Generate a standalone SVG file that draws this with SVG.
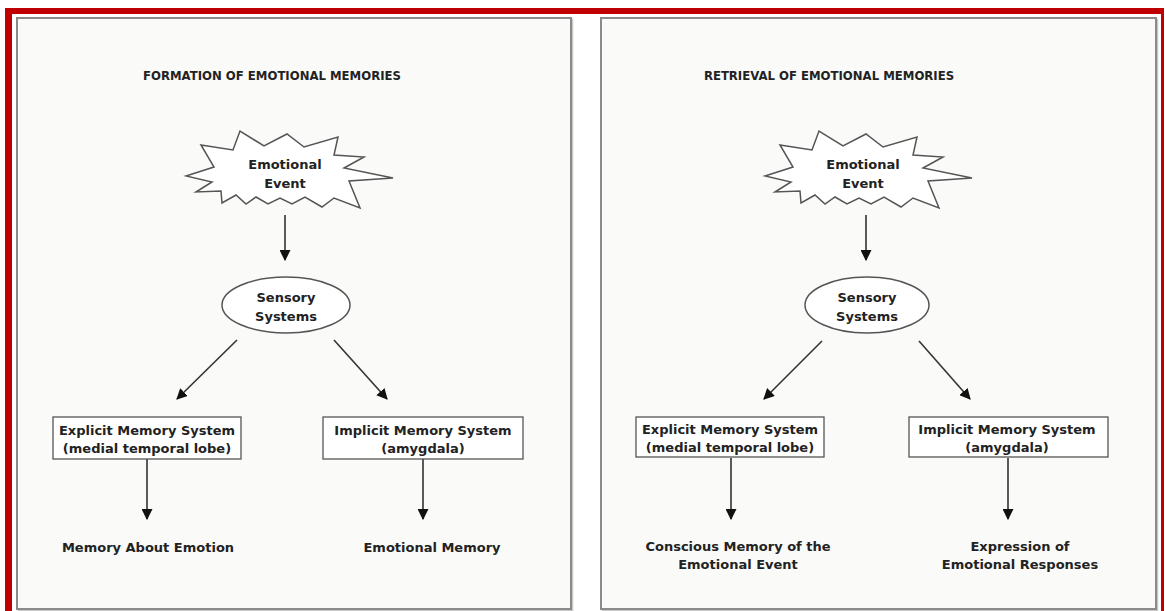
<svg xmlns="http://www.w3.org/2000/svg" width="1165" height="611" viewBox="0 0 1165 611">
<style>
text{font-family:"DejaVu Sans","Liberation Sans",sans-serif;font-weight:bold;fill:#222;text-anchor:middle}
.t{font-size:11.7px}
.n{font-size:13px}
.panel{fill:#fafbf9;stroke:#8a8a8a;stroke-width:2}
.shadow{fill:none;stroke:#c8c8c8;stroke-width:1.5}
.shape{fill:#fff;stroke:#555;stroke-width:1.5}
.box{fill:#fff;stroke:#555;stroke-width:1.3}
.link{stroke:#333;stroke-width:1.6;fill:none;marker-end:url(#ah)}
</style>
<defs>
<marker id="ah" viewBox="0 0 10 10" refX="9" refY="5" markerWidth="11" markerHeight="11" orient="auto" markerUnits="userSpaceOnUse">
<path d="M0,0 L10,5 L0,10 Z" fill="#111"/>
</marker>
<polygon id="star" points="186,176 214,167 201,145 233,150 240,131 264,146 287,134 304,147 338,137 334,155 364,157 344,168 393,178 349,181 360,208 334,198 322,207 305,197 292,204 280,198 268,204 256,197 246,204 236,195 222,203 221,191 196,192 212,182"/>
</defs>
<rect width="1165" height="611" fill="#fff"/>
<rect x="5" y="8" width="1159" height="6" fill="#c00000"/>
<rect x="5" y="8" width="7" height="603" fill="#c00000"/>
<rect x="1161" y="8" width="3" height="603" fill="#c00000"/>
<g id="panel-formation">
<rect class="shadow" x="18.5" y="19.5" width="554" height="591"/>
<rect class="panel" x="17" y="18" width="554" height="591"/>
<text class="t" x="272" y="80">FORMATION OF EMOTIONAL MEMORIES</text>
</g>
<g id="panel-retrieval">
<rect class="shadow" x="602.5" y="19.5" width="555" height="591"/>
<rect class="panel" x="601" y="18" width="555" height="591"/>
<text class="t" x="829" y="80">RETRIEVAL OF EMOTIONAL MEMORIES</text>
</g>
<g id="connectors">
<line class="link" x1="285" y1="215" x2="285" y2="260"/>
<line class="link" x1="237" y1="340" x2="177" y2="399"/>
<line class="link" x1="334" y1="340" x2="387" y2="399"/>
<line class="link" x1="147" y1="459" x2="147" y2="519"/>
<line class="link" x1="423" y1="459" x2="423" y2="519"/>
<line class="link" x1="866" y1="215" x2="866" y2="260"/>
<line class="link" x1="822" y1="341" x2="764" y2="399"/>
<line class="link" x1="919" y1="341" x2="970" y2="399"/>
<line class="link" x1="731" y1="458" x2="731" y2="519"/>
<line class="link" x1="1008" y1="458" x2="1008" y2="519"/>
</g>
<g id="f-event">
<use href="#star" class="shape"/>
<text class="n" x="285" y="169">Emotional</text>
<text class="n" x="285" y="188">Event</text>
</g>
<g id="f-sensory">
<ellipse class="shape" cx="286" cy="305" rx="64" ry="28"/>
<text class="n" x="286" y="302">Sensory</text>
<text class="n" x="286" y="321">Systems</text>
</g>
<g id="f-explicit">
<rect class="box" x="53" y="417" width="188" height="42"/>
<text class="n" x="147" y="435">Explicit Memory System</text>
<text class="n" x="147" y="453">(medial temporal lobe)</text>
</g>
<g id="f-implicit">
<rect class="box" x="323" y="417" width="200" height="42"/>
<text class="n" x="423" y="435">Implicit Memory System</text>
<text class="n" x="423" y="453">(amygdala)</text>
</g>
<g id="f-about">
<text class="n" x="148" y="552">Memory About Emotion</text>
</g>
<g id="f-emomem">
<text class="n" x="432" y="552">Emotional Memory</text>
</g>
<g id="r-event">
<use href="#star" class="shape" transform="translate(579,0)"/>
<text class="n" x="863" y="169">Emotional</text>
<text class="n" x="863" y="188">Event</text>
</g>
<g id="r-sensory">
<ellipse class="shape" cx="867" cy="305" rx="62" ry="28"/>
<text class="n" x="867" y="302">Sensory</text>
<text class="n" x="867" y="321">Systems</text>
</g>
<g id="r-explicit">
<rect class="box" x="636" y="417" width="188" height="40"/>
<text class="n" x="730" y="434">Explicit Memory System</text>
<text class="n" x="730" y="452">(medial temporal lobe)</text>
</g>
<g id="r-implicit">
<rect class="box" x="909" y="417" width="199" height="40"/>
<text class="n" x="1007" y="434">Implicit Memory System</text>
<text class="n" x="1007" y="452">(amygdala)</text>
</g>
<g id="r-conscious">
<text class="n" x="738" y="551">Conscious Memory of the</text>
<text class="n" x="738" y="569">Emotional Event</text>
</g>
<g id="r-expression">
<text class="n" x="1020" y="551">Expression of</text>
<text class="n" x="1020" y="569">Emotional Responses</text>
</g>
</svg>
